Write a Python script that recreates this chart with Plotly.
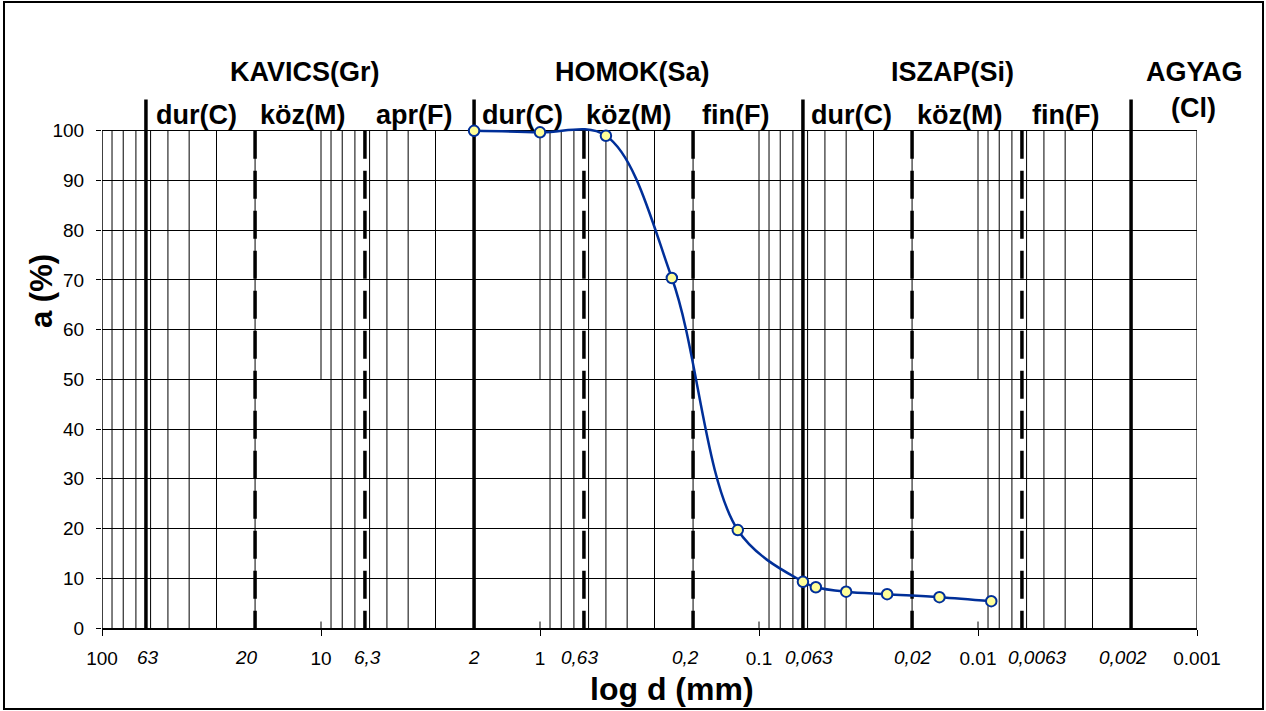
import math
import plotly.graph_objects as go

# Sieve / hydrometer results: grain diameter (mm) and percent passing
d_mm = [2, 1, 0.5, 0.25, 0.125, 0.063, 0.055, 0.04, 0.026, 0.015, 0.0087]
passing = [100, 99.7, 99.0, 70.4, 19.7, 9.3, 8.2, 7.3, 6.8, 6.2, 5.4]

# Soil-class boundaries (mm)
main_bounds = [63, 2, 0.063, 0.002]
sub_bounds = [20, 6.3, 0.63, 0.2, 0.02, 0.0063]
bound_values = [63, 20, 6.3, 2, 0.63, 0.2, 0.063, 0.02, 0.0063, 0.002]
bound_labels = ["63", "20", "6,3", "2", "0,63", "0,2", "0,063", "0,02", "0,0063", "0,002"]

# Decade axis ticks
decade_vals = [100, 10, 1, 0.1, 0.01, 0.001]
decade_text = ["100", "10", "1", "0.1", "0.01", "0.001"]
y_ticks = [0, 10, 20, 30, 40, 50, 60, 70, 80, 90, 100]

main_names = ["KAVICS(Gr)", "HOMOK(Sa)", "ISZAP(Si)", "AGYAG"]
sub_names = ["dur(C)", "köz(M)", "apr(F)", "dur(C)", "köz(M)", "fin(F)",
             "dur(C)", "köz(M)", "fin(F)"]

# ---- page geometry (pixels) ----
W, H = 1266, 711
ML, MR, MT, MB = 102, 69, 96, 83
PW, PH = W - ML - MR, H - MT - MB
Y_TOP = 107


def px_x(px):
    return (px - ML) / PW


def px_y(py):
    return (H - MB - py) / PH


FONT = "Arial, Liberation Sans, sans-serif"
LINE = "#002f99"
GRID = "#000000"

shapes = []

# minor log grid lines (2..9 in every decade)
for k in (1, 0, -1, -2, -3):
    for m in range(2, 10):
        v = m * 10 ** k
        shapes.append(dict(type="line", xref="x", yref="y", x0=v, x1=v, y0=0, y1=100,
                           line=dict(color=GRID, width=1), layer="between"))

# decade lines reach only the upper half, plus short inner tick at the axis
for v in decade_vals[1:-1]:
    shapes.append(dict(type="line", xref="x", yref="y", x0=v, x1=v, y0=50, y1=100,
                       line=dict(color=GRID, width=1), layer="between"))
    shapes.append(dict(type="line", xref="x", yref="y", x0=v, x1=v, y0=0, y1=1.3,
                       line=dict(color=GRID, width=1), layer="between"))

# frame: left axis and right edge
for v, w in ((100, 1.5), (0.001, 1.2)):
    shapes.append(dict(type="line", xref="x", yref="y", x0=v, x1=v, y0=0, y1=100,
                       line=dict(color="black", width=w), layer="between"))

# main class boundaries (solid, reaching into the label row)
for v in main_bounds:
    shapes.append(dict(type="line", xref="x", yref="y", x0=v, x1=v, y0=0, y1=106.3,
                       line=dict(color="black", width=3.5), layer="between"))

# sub-class boundaries (dashed)
for v in sub_bounds:
    shapes.append(dict(type="line", xref="x", yref="y", x0=v, x1=v, y0=100, y1=0,
                       line=dict(color="black", width=3.5, dash="28px,12px"),
                       layer="between"))

# outer border of the chart
shapes.append(dict(type="rect", xref="paper", yref="paper",
                   x0=px_x(4), x1=px_x(1263), y0=px_y(709), y1=px_y(2),
                   line=dict(color="black", width=2), layer="above"))

annotations = []

# italic boundary labels under the axis
label_shift = [2, -9, 3, 0, -4, -8, 6, 0, 16, -8]
for v, t, s in zip(bound_values, bound_labels, label_shift):
    annotations.append(dict(x=math.log10(v), y=px_y(657), xref="x", yref="paper",
                            text=t, showarrow=False, xshift=s,
                            font=dict(family=FONT, size=19, color="black", style="italic"),
                            xanchor="center", yanchor="middle"))

TITLE_FONT = dict(family=FONT, size=27, color="black", weight="bold")

# main soil class titles
main_px = [(305, 72), (632, 72), (952, 72), (1194, 72)]
for t, (x, y) in zip(main_names, main_px):
    annotations.append(dict(x=px_x(x), y=px_y(y), xref="paper", yref="paper", text=t,
                            showarrow=False, xanchor="center", yanchor="middle",
                            font=TITLE_FONT))
annotations.append(dict(x=px_x(1193), y=px_y(108), xref="paper", yref="paper", text="(Cl)",
                        showarrow=False, xanchor="center", yanchor="middle",
                        font=TITLE_FONT))

# sub class titles
sub_px = [196, 302, 414, 522, 628, 735, 851, 959, 1065]
for t, x in zip(sub_names, sub_px):
    annotations.append(dict(x=px_x(x), y=px_y(115), xref="paper", yref="paper", text=t,
                            showarrow=False, xanchor="center", yanchor="middle",
                            font=TITLE_FONT))

# axis titles
annotations.append(dict(x=px_x(672), y=px_y(689), xref="paper", yref="paper",
                        text="log d (mm)", showarrow=False, xanchor="center", yanchor="middle",
                        font=dict(family=FONT, size=32, color="black", weight="bold")))
annotations.append(dict(x=px_x(41), y=px_y(291), xref="paper", yref="paper",
                        text="a (%)", showarrow=False, textangle=-90,
                        xanchor="center", yanchor="middle",
                        font=dict(family=FONT, size=31, color="black", weight="bold")))

fig = go.Figure()
fig.add_trace(go.Scatter(
    x=d_mm, y=passing, mode="lines+markers", cliponaxis=False,
    line=dict(shape="spline", smoothing=1.0, color=LINE, width=2.5),
    marker=dict(symbol="circle", size=10.5, color="#ffff99",
                line=dict(color=LINE, width=2)),
    hoverinfo="x+y", showlegend=False,
))

fig.update_layout(
    width=W, height=H,
    margin=dict(l=ML, r=MR, t=MT, b=MB, pad=0),
    paper_bgcolor="white", plot_bgcolor="white",
    font=dict(family=FONT, size=19, color="black"),
    shapes=shapes, annotations=annotations,
    xaxis=dict(type="log", range=[2, -3], tickvals=decade_vals, ticktext=decade_text,
               showgrid=False, zeroline=False, showline=True, linecolor="black",
               linewidth=2, ticks="outside", ticklen=6, tickwidth=1, tickcolor=GRID,
               tickfont=dict(family=FONT, size=19, color="black"),
               ticklabelstandoff=6, fixedrange=True),
    yaxis=dict(range=[0, Y_TOP], tickvals=y_ticks, showgrid=True, gridcolor=GRID,
               gridwidth=1, zeroline=False, showline=False, ticks="outside",
               ticklen=5, tickwidth=1, tickcolor="black",
               tickfont=dict(family=FONT, size=19, color="black"),
               ticklabelstandoff=8, fixedrange=True),
)

fig.write_html("out.html")
